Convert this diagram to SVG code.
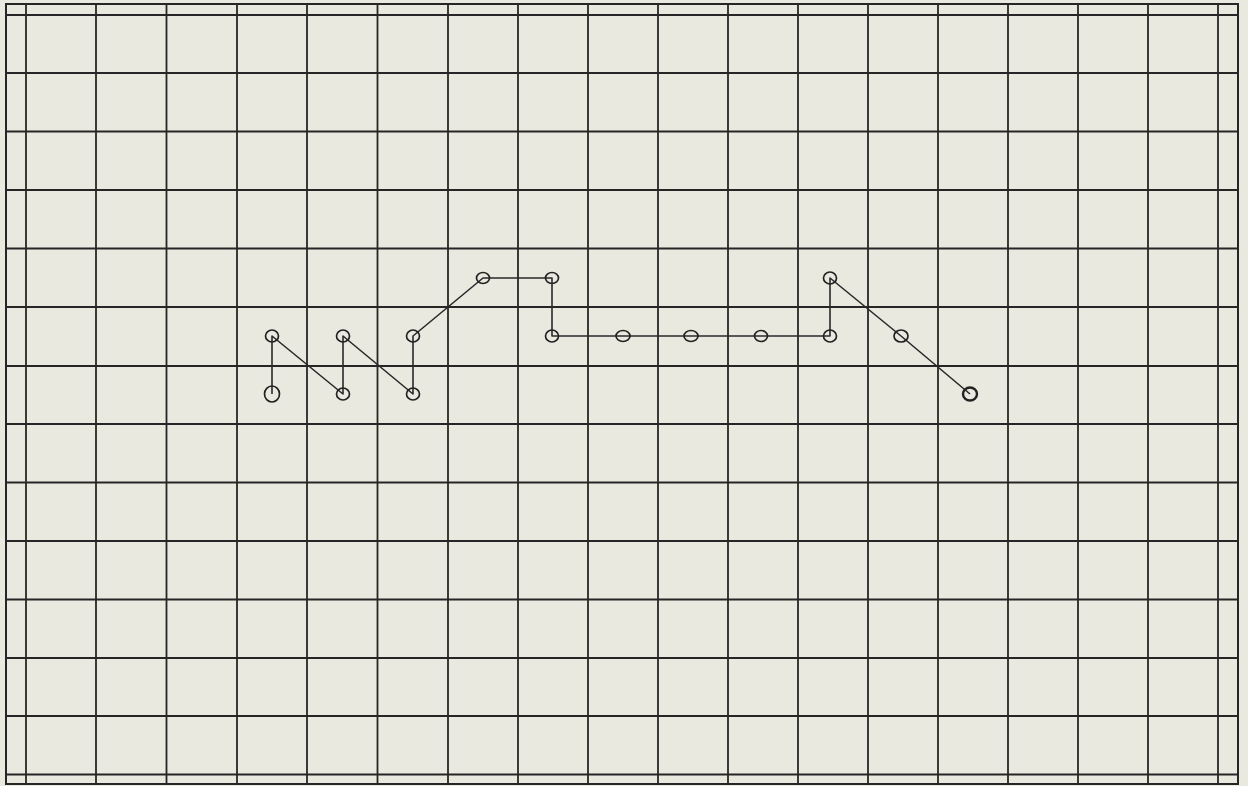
<svg xmlns="http://www.w3.org/2000/svg" width="1248" height="786" viewBox="0 0 1248 786">
<style>
.bg{fill:#eae9e0}
.grid line{stroke:#262626;stroke-width:1.8}
.border{fill:none;stroke:#262626;stroke-width:2}
.conn{fill:none;stroke:#2a2a2a;stroke-width:1.6;stroke-linejoin:round}
.node ellipse{fill:none;stroke:#222;stroke-width:1.7}
</style>
<rect class="bg" x="0" y="0" width="1248" height="786"/>
<g id="grid" class="grid">
<line x1="26" y1="4" x2="26" y2="784"/>
<line x1="96" y1="4" x2="96" y2="784"/>
<line x1="166.5" y1="4" x2="166.5" y2="784"/>
<line x1="237" y1="4" x2="237" y2="784"/>
<line x1="307" y1="4" x2="307" y2="784"/>
<line x1="377.5" y1="4" x2="377.5" y2="784"/>
<line x1="448" y1="4" x2="448" y2="784"/>
<line x1="518" y1="4" x2="518" y2="784"/>
<line x1="588" y1="4" x2="588" y2="784"/>
<line x1="658" y1="4" x2="658" y2="784"/>
<line x1="728" y1="4" x2="728" y2="784"/>
<line x1="798" y1="4" x2="798" y2="784"/>
<line x1="868" y1="4" x2="868" y2="784"/>
<line x1="938" y1="4" x2="938" y2="784"/>
<line x1="1008" y1="4" x2="1008" y2="784"/>
<line x1="1078" y1="4" x2="1078" y2="784"/>
<line x1="1148" y1="4" x2="1148" y2="784"/>
<line x1="1218" y1="4" x2="1218" y2="784"/>
<line x1="6" y1="15" x2="1238" y2="15"/>
<line x1="6" y1="73" x2="1238" y2="73"/>
<line x1="6" y1="131.5" x2="1238" y2="131.5"/>
<line x1="6" y1="190" x2="1238" y2="190"/>
<line x1="6" y1="248.5" x2="1238" y2="248.5"/>
<line x1="6" y1="307" x2="1238" y2="307"/>
<line x1="6" y1="366" x2="1238" y2="366"/>
<line x1="6" y1="424" x2="1238" y2="424"/>
<line x1="6" y1="482.5" x2="1238" y2="482.5"/>
<line x1="6" y1="541" x2="1238" y2="541"/>
<line x1="6" y1="599.5" x2="1238" y2="599.5"/>
<line x1="6" y1="658" x2="1238" y2="658"/>
<line x1="6" y1="716" x2="1238" y2="716"/>
<line x1="6" y1="774.5" x2="1238" y2="774.5"/>
<rect class="border" x="6" y="4" width="1232" height="780"/>
</g>
<g id="connectors">
<polyline class="conn" points="272,394 272,336 343,394 343,336 413,394 413,336 448,307 483,278 552,278 552,336 623,336 691,336 761,336 830,336 830,278 901,336 970,394"/>
</g>
<g id="n1" class="node"><ellipse cx="272" cy="394" rx="7.5" ry="8"/></g>
<g id="n2" class="node"><ellipse cx="272" cy="336" rx="6.5" ry="6"/></g>
<g id="n3" class="node"><ellipse cx="343" cy="394" rx="6.5" ry="6"/></g>
<g id="n4" class="node"><ellipse cx="343" cy="336" rx="6.5" ry="6"/></g>
<g id="n5" class="node"><ellipse cx="413" cy="394" rx="6.5" ry="6"/></g>
<g id="n6" class="node"><ellipse cx="413" cy="336" rx="6.5" ry="6"/></g>
<g id="n7" class="node"><ellipse cx="483" cy="278" rx="6.5" ry="5.5"/></g>
<g id="n8" class="node"><ellipse cx="552" cy="278" rx="6.5" ry="5.5"/></g>
<g id="n9" class="node"><ellipse cx="552" cy="336" rx="6.5" ry="6"/></g>
<g id="n10" class="node"><ellipse cx="623" cy="336" rx="7" ry="5.5"/></g>
<g id="n11" class="node"><ellipse cx="691" cy="336" rx="7" ry="5.5"/></g>
<g id="n12" class="node"><ellipse cx="761" cy="336" rx="6.5" ry="5.5"/></g>
<g id="n13" class="node"><ellipse cx="830" cy="336" rx="6.5" ry="6"/></g>
<g id="n14" class="node"><ellipse cx="830" cy="278" rx="6.5" ry="6"/></g>
<g id="n15" class="node"><ellipse cx="901" cy="336" rx="7" ry="6"/></g>
<g id="n16" class="node"><ellipse cx="970" cy="394" rx="7" ry="6.5" style="stroke-width:2.4"/></g>
</svg>
